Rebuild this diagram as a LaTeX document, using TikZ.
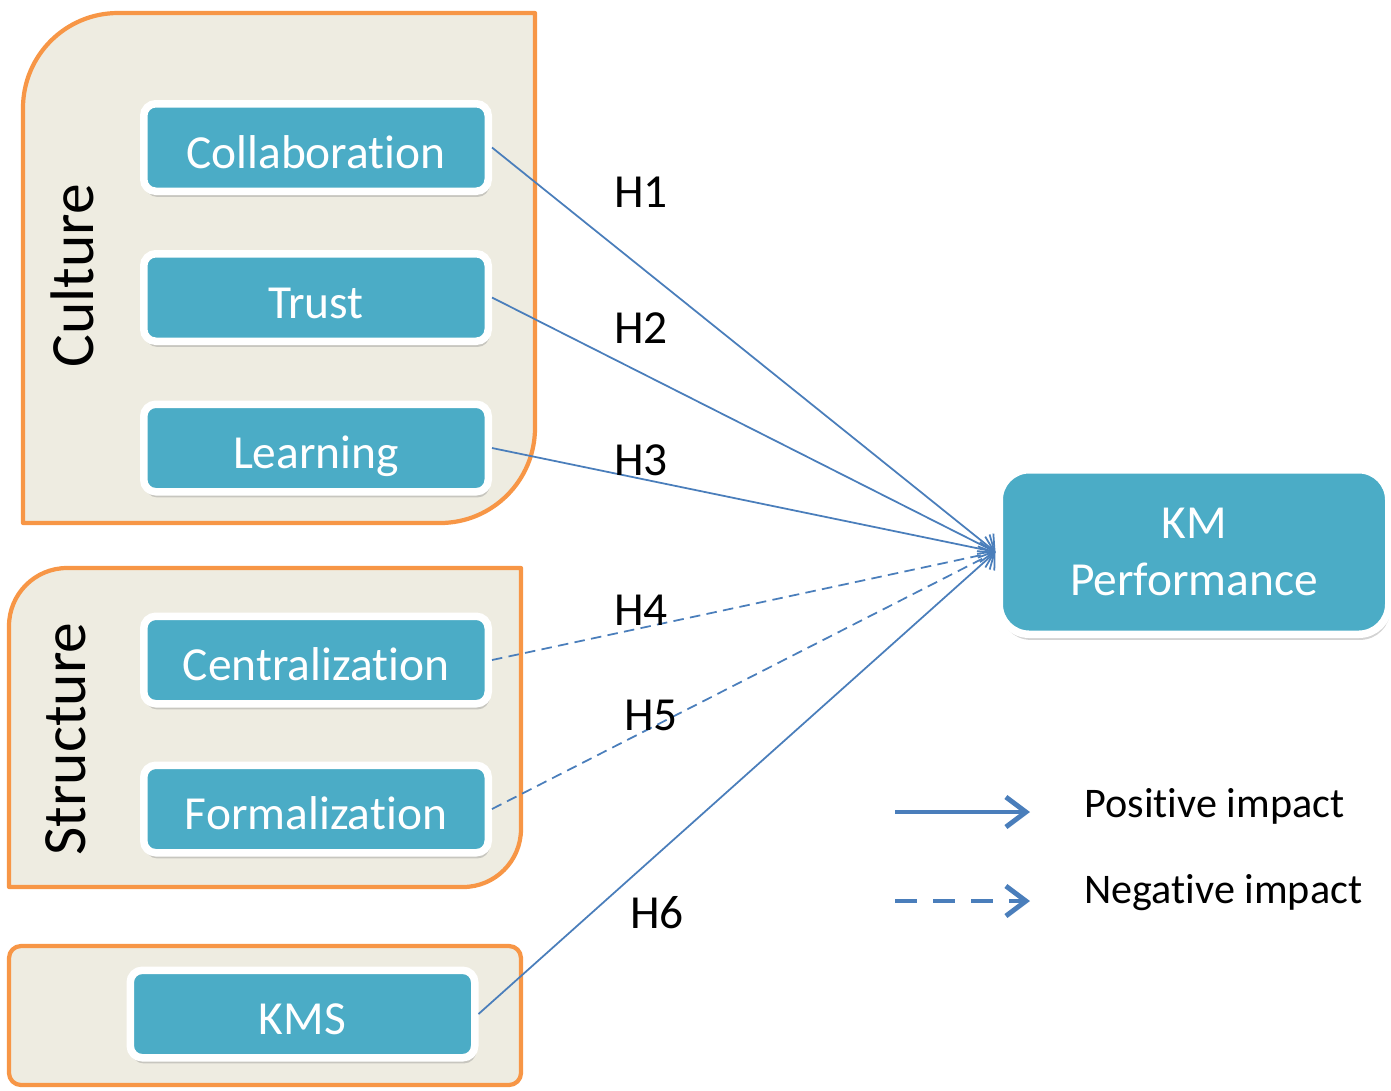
\documentclass[tikz,border=0pt]{standalone}
\usepackage{fontspec}
\setmainfont{Carlito}[Ligatures=NoCommon]
\usepackage{xcolor}
\usetikzlibrary{arrows.meta, shadows}

\definecolor{kmteal}{HTML}{4BACC6}
\definecolor{kmorange}{HTML}{F79646}
\definecolor{kmbeige}{HTML}{EEECE1}
\definecolor{kmblue}{HTML}{4A7EBB}

\tikzset{
  groupbox/.style={draw=kmorange, fill=kmbeige, line width=1.2pt, line join=round},
  factor/.style={draw=white, fill=kmteal, line width=0.075cm, rounded corners=0.12cm,
    minimum width=3.445cm, minimum height=0.875cm, inner sep=0pt, text=white,
    text height=12.5pt, text depth=0.7pt,
    font=\fontsize{13.5}{16}\selectfont,
    drop shadow={shadow xshift=0.4pt, shadow yshift=-1.6pt, opacity=0.35}},
  grouplabel/.style={rotate=90, font=\fontsize{17.5}{20}\selectfont},
  hyp/.style={font=\fontsize{13.5}{16}\selectfont},
  legendtext/.style={anchor=west, font=\fontsize{12}{14}\selectfont},
  posarrow/.style={draw=kmblue, line width=0.5pt, -{Straight Barb[length=0.12cm, width=0.26cm]}},
  negarrow/.style={posarrow, dash pattern=on 3pt off 1.8pt}
}

\begin{document}
\begin{tikzpicture}
  \useasboundingbox (0,0) rectangle (13.91,-10.90);

  % Groups
  \draw[groupbox] (0.23,-5.23) -- (0.23,-1.08) arc[start angle=180, end angle=90, radius=0.95]
     -- (5.35,-0.13) -- (5.35,-4.28) arc[start angle=0, end angle=-90, radius=0.95] -- cycle;
  \draw[groupbox] (0.09,-8.87) -- (0.09,-6.26) arc[start angle=180, end angle=90, radius=0.58]
     -- (5.21,-5.68) -- (5.21,-8.29) arc[start angle=0, end angle=-90, radius=0.58] -- cycle;
  \draw[groupbox, rounded corners=0.12cm] (0.09,-9.46) rectangle (5.21,-10.85);

  % Group labels
  \node[grouplabel] (culture) at (0.72,-2.76) {Culture};
  \node[grouplabel] (structure) at (0.66,-7.39) {Structure};

  % Factors
  \node[factor] (collab) at (3.16,-1.475) {Collaboration};
  \node[factor] (trust) at (3.16,-2.975) {Trust};
  \node[factor] (learn) at (3.16,-4.48) {Learning};
  \node[factor] (central) at (3.16,-6.6) {Centralization};
  \node[factor] (formal) at (3.16,-8.09) {Formalization};
  \node[factor] (kms) at (3.025,-10.14) {KMS};

  % Outcome
  \node[factor, minimum width=3.895cm, minimum height=1.645cm, rounded corners=0.3cm,
     text height=, text depth=, align=center, font=\fontsize{13.5}{16.3}\selectfont]
     (perf) at (11.94,-5.52) {KM\\Performance};

  % Hypotheses
  \draw[posarrow] (collab.east) -- (perf.west);
  \draw[posarrow] (trust.east) -- (perf.west);
  \draw[posarrow] (learn.east) -- (perf.west);
  \draw[negarrow] (central.east) -- (perf.west);
  \draw[negarrow] (formal.east) -- (perf.west);
  \draw[posarrow] (kms.east) -- (perf.west);

  \node[hyp] (h1) at (6.41,-1.92) {H1};
  \node[hyp] (h2) at (6.41,-3.28) {H2};
  \node[hyp] (h3) at (6.41,-4.60) {H3};
  \node[hyp] (h4) at (6.41,-6.10) {H4};
  \node[hyp] (h5) at (6.51,-7.15) {H5};
  \node[hyp] (h6) at (6.57,-9.13) {H6};

  % Legend
  \coordinate (lp1) at (8.95,-8.12);
  \coordinate (lp2) at (10.30,-8.12);
  \coordinate (ln1) at (8.95,-9.01);
  \coordinate (ln2) at (10.30,-9.01);
  \draw[draw=kmblue, line width=1.4pt, -{Straight Barb[length=0.2cm, width=0.3cm]}] (lp1) -- (lp2);
  \draw[draw=kmblue, line width=1.4pt, dash pattern=on 0.22cm off 0.16cm,
     -{Straight Barb[length=0.2cm, width=0.3cm]}] (ln1) -- (ln2);
  \node[legendtext] (lpos) at (10.72,-8.06) {Positive impact};
  \node[legendtext] (lneg) at (10.72,-8.93) {Negative impact};
\end{tikzpicture}
\end{document}
